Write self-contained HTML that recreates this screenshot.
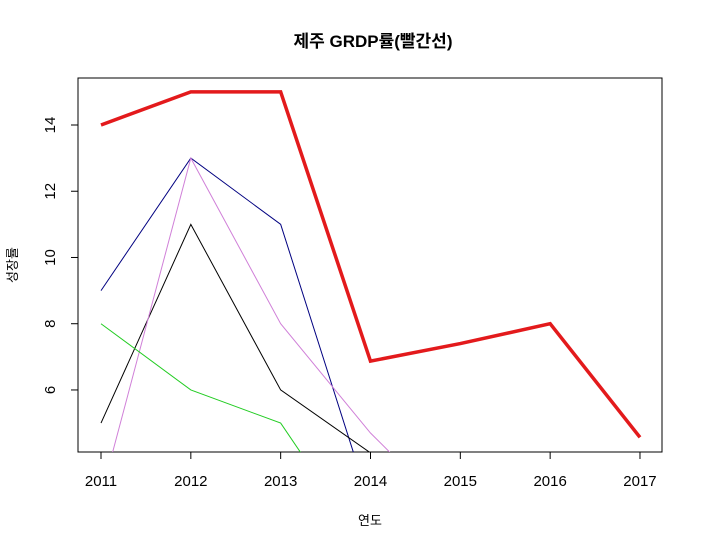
<!DOCTYPE html>
<html><head><meta charset="utf-8"><style>
body{margin:0;background:#fff;}
svg{display:block;font-family:"Liberation Sans","Noto Sans CJK KR",sans-serif;}
</style></head><body>
<svg id="c" width="702" height="549">
<text x="373" y="47" text-anchor="middle" font-size="17" font-weight="bold">제주 GRDP률(빨간선)</text>
<rect x="78" y="78" width="584" height="374" fill="none" stroke="#000"/>
<text x="370" y="525" text-anchor="middle" font-size="13">연도</text>
<text transform="translate(17,265) rotate(-90)" text-anchor="middle" font-size="13">성장률</text>
<g id="ax"></g><g id="lines"></g>
</svg>
<script>
const years=[2011,2012,2013,2014,2015,2016,2017];
const yTicks=[6,8,10,12,14];
const red=[14,15,15,6.87,7.4,8,4.57];
const navy=[9,13,11,2.5,null,null,null];
const black=[5,11,6,4.1,null,null,null];
const violet=[2.8,13,8,4.7,2,null,null];
const green=[8,6,5,1,null,null,null];
const NS="http://www.w3.org/2000/svg";
const xs=v=>101+(v-2011)*89.83;
const ys=v=>125+(14-v)*33.12;
const ax=document.getElementById('ax');
function mk(t,a,p){const e=document.createElementNS(NS,t);for(const k in a)e.setAttribute(k,a[k]);p.appendChild(e);return e;}
years.forEach(y=>{
 const l=mk('line',{x1:xs(y),x2:xs(y),y1:452,y2:459,stroke:'#000'},ax);
 
 
 const t=mk('text',{x:xs(y),y:486,'text-anchor':'middle','font-size':15},ax);t.textContent=y;
 
 
});
yTicks.forEach(v=>{
 const l=mk('line',{x1:71,x2:78,y1:ys(v),y2:ys(v),stroke:'#000'},ax);
 
 
 const t=mk('text',{x:0,y:0,'text-anchor':'middle','font-size':15,transform:`translate(55,${ys(v)}) rotate(-90)`},ax);t.textContent=v;
 
 
});
mk('defs',{},document.getElementById('c')).innerHTML='<clipPath id="cp"><rect x="78" y="78" width="584" height="374"/></clipPath>';
const lg=document.getElementById('lines');lg.setAttribute('clip-path','url(#cp)');
[[navy,'#000080',1,'navy-line'],[black,'#000',1,'black-line'],[violet,'#d080d8',1,'violet-line'],[green,'#22cc22',1,'green-line'],[red,'#e31a1c',3.5,'red-line']].forEach(([d,c,w,n])=>{
 const pts=[];d.forEach((v,i)=>{if(v!==null)pts.push(xs(years[i])+','+ys(v));});
 const p=mk('polyline',{points:pts.join(' '),fill:'none',stroke:c,'stroke-width':w},lg);
 
 
});
</script>
</body></html>
